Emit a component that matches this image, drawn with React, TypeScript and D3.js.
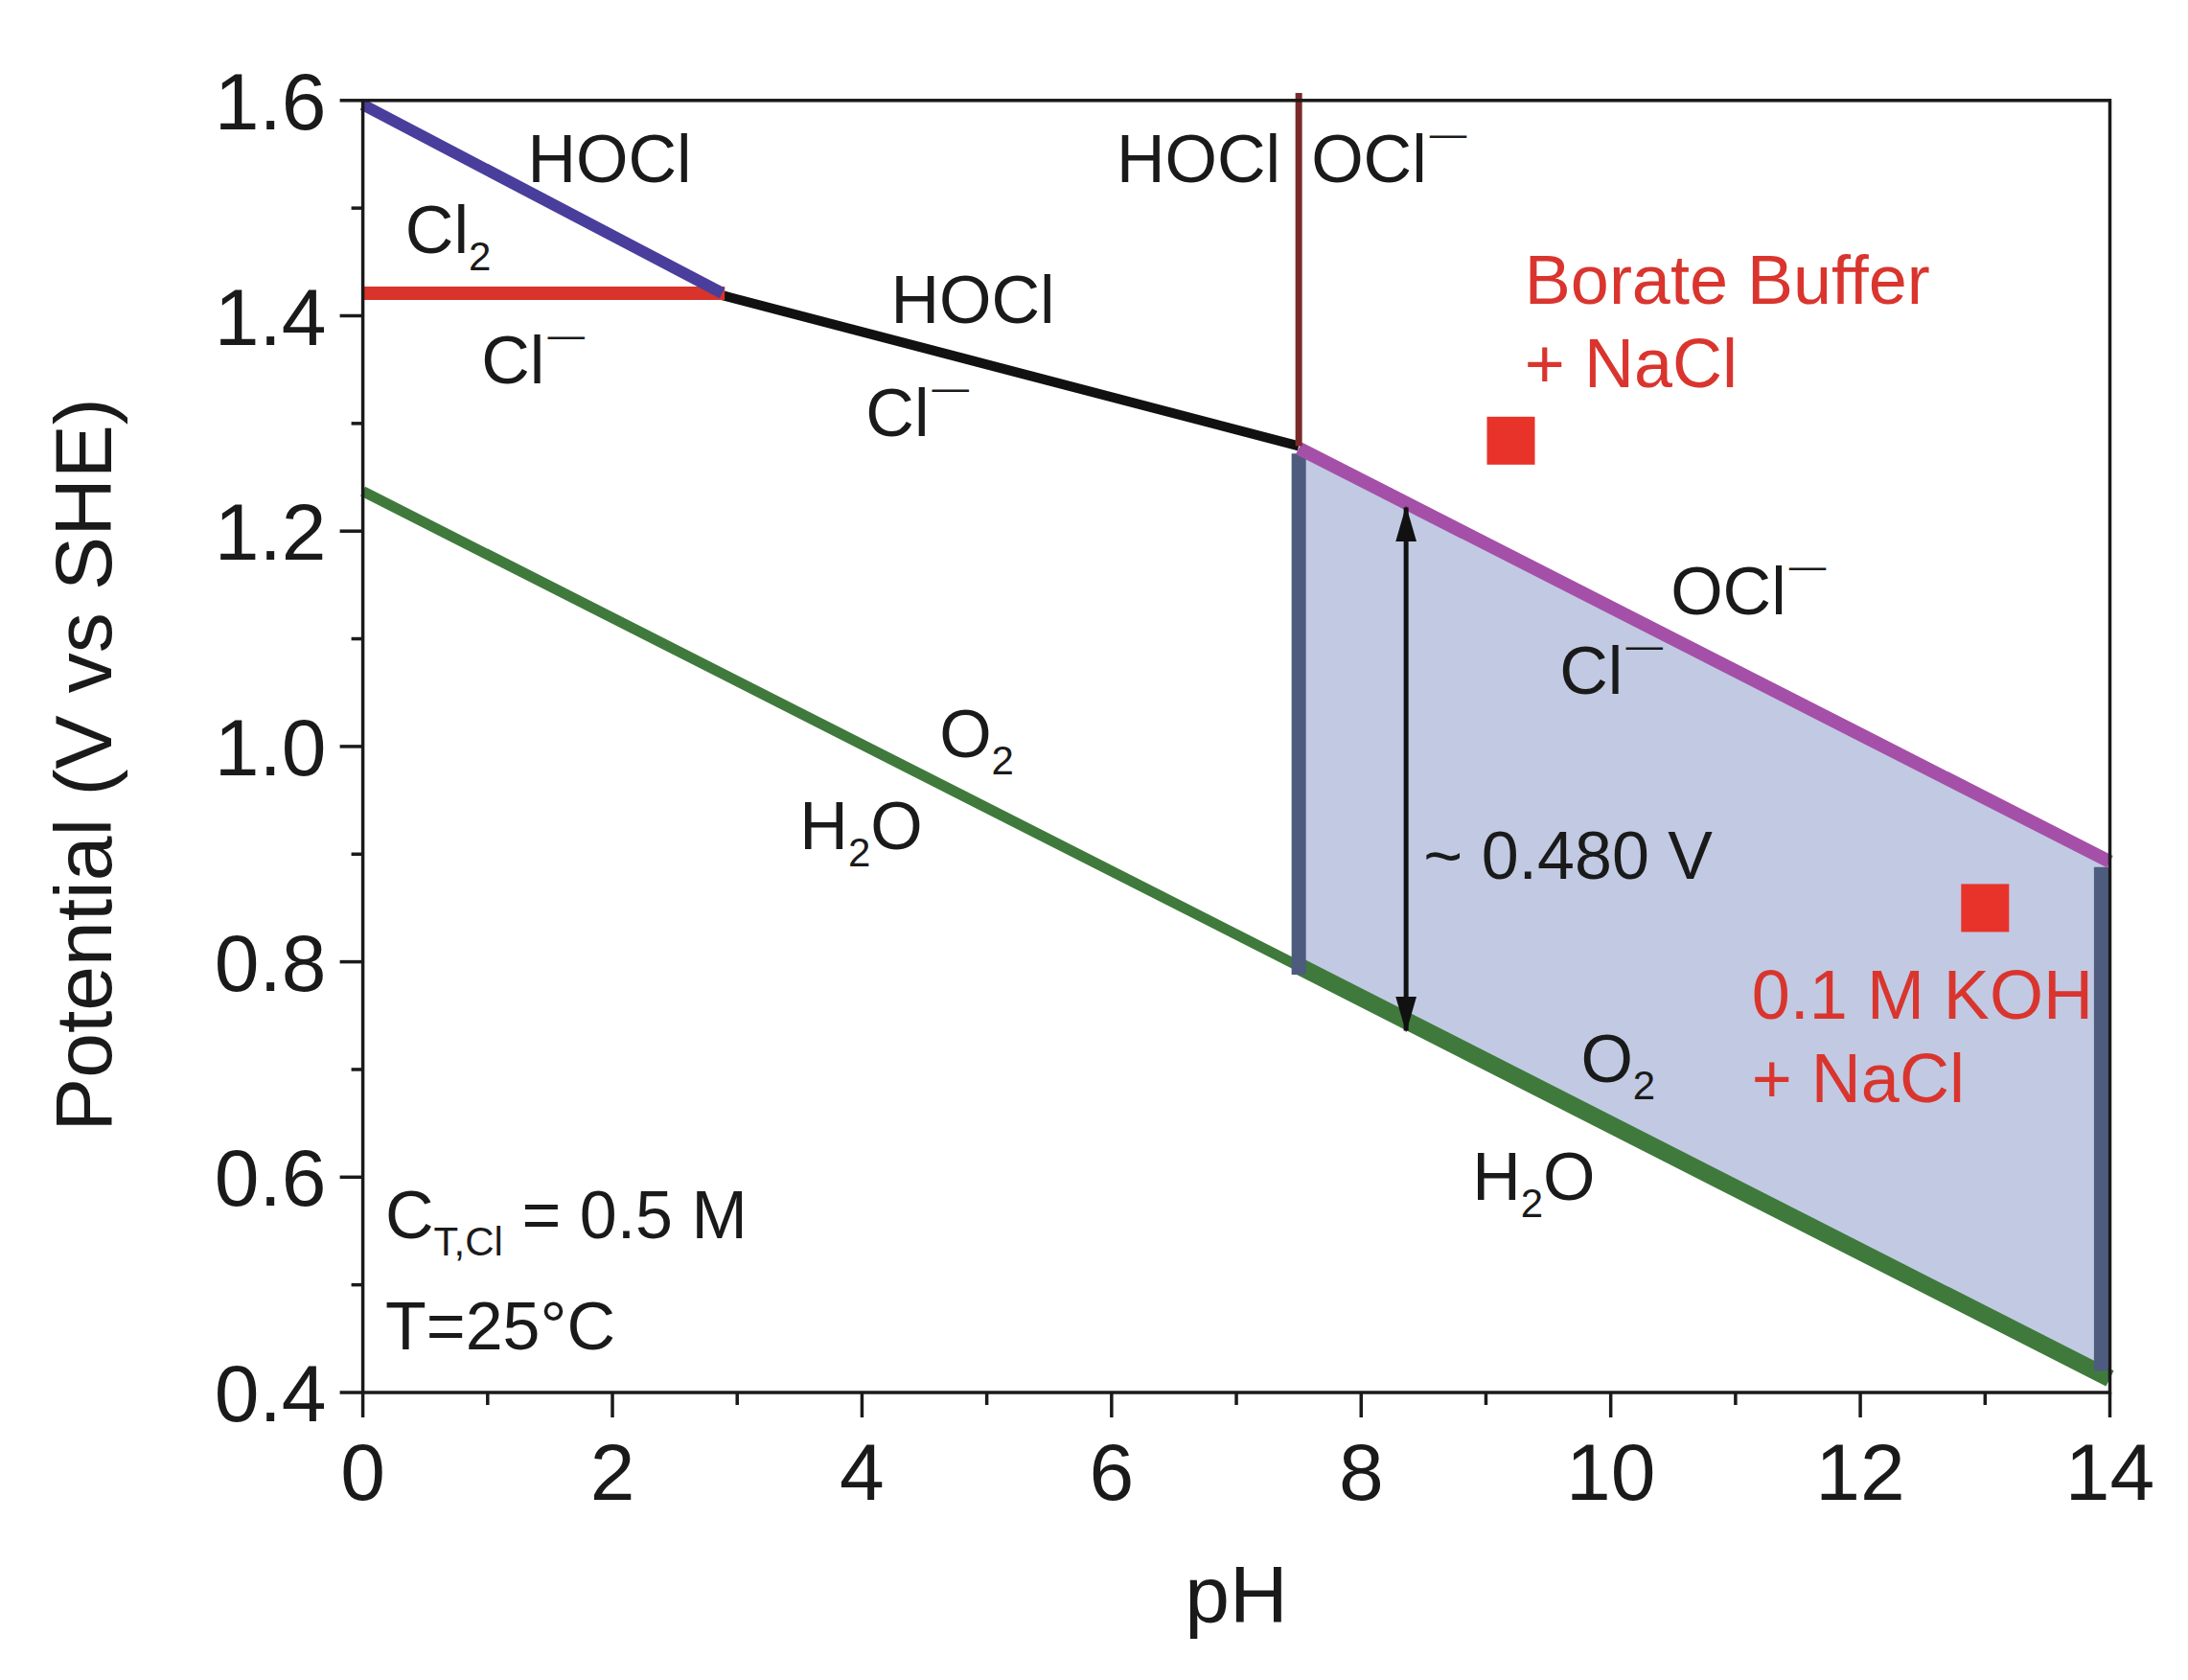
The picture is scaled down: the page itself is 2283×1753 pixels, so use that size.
import React from "react";
import * as d3 from "d3";

// ---------- data ----------
type P = { ph: number; E: number };
const cl2HoclLine: P[] = [{ ph: 0, E: 1.596 }, { ph: 2.88, E: 1.421 }];
const cl2ClLine: P[] = [{ ph: 0, E: 1.421 }, { ph: 2.9, E: 1.421 }];
const hoclClLine: P[] = [{ ph: 2.88, E: 1.419 }, { ph: 7.5, E: 1.279 }];
const hoclOclLine: P[] = [{ ph: 7.5, E: 1.279 }, { ph: 7.5, E: 1.607 }];
const oclClLine: P[] = [{ ph: 7.5, E: 1.277 }, { ph: 14, E: 0.893 }];
const waterLineAcid: P[] = [{ ph: 0, E: 1.237 }, { ph: 7.5, E: 0.796 }];
const waterLineWindow: P[] = [{ ph: 7.5, E: 0.796 }, { ph: 14, E: 0.413 }];
const windowLeft: P[] = [{ ph: 7.5, E: 1.272 }, { ph: 7.5, E: 0.788 }];
const windowRight: P[] = [{ ph: 13.93, E: 0.888 }, { ph: 13.93, E: 0.42 }];
const windowArea: P[] = [
  { ph: 7.5, E: 1.277 },
  { ph: 14, E: 0.893 },
  { ph: 14, E: 0.413 },
  { ph: 7.5, E: 0.796 },
];
const gapArrow: P[] = [{ ph: 8.36, E: 1.222 }, { ph: 8.36, E: 0.736 }];
const electrolytePoints: P[] = [{ ph: 9.2, E: 1.284 }, { ph: 13.0, E: 0.85 }];

const xTicks = [0, 2, 4, 6, 8, 10, 12, 14];
const xMinor = [1, 3, 5, 7, 9, 11, 13];
const yTicks = [0.4, 0.6, 0.8, 1.0, 1.2, 1.4, 1.6];
const yMinor = [0.5, 0.7, 0.9, 1.1, 1.3, 1.5];

type Seg = { t: string; k?: "sub" | "sup" };
type Label = { ph: number; E: number; parts: Seg[]; red?: boolean };
const labels: Label[] = [
  { ph: 1.32, E: 1.524, parts: [{ t: "HOCl" }] },
  { ph: 0.34, E: 1.458, parts: [{ t: "Cl" }, { t: "2", k: "sub" }] },
  { ph: 0.95, E: 1.337, parts: [{ t: "Cl" }, { t: "—", k: "sup" }] },
  { ph: 4.23, E: 1.393, parts: [{ t: "HOCl" }] },
  { ph: 4.03, E: 1.288, parts: [{ t: "Cl" }, { t: "—", k: "sup" }] },
  { ph: 6.04, E: 1.524, parts: [{ t: "HOCl" }] },
  { ph: 7.6, E: 1.524, parts: [{ t: "OCl" }, { t: "—", k: "sup" }] },
  { ph: 10.48, E: 1.123, parts: [{ t: "OCl" }, { t: "—", k: "sup" }] },
  { ph: 9.59, E: 1.049, parts: [{ t: "Cl" }, { t: "—", k: "sup" }] },
  { ph: 4.62, E: 0.99, parts: [{ t: "O" }, { t: "2", k: "sub" }] },
  { ph: 3.5, E: 0.905, parts: [{ t: "H" }, { t: "2", k: "sub" }, { t: "O" }] },
  { ph: 8.5, E: 0.877, parts: [{ t: "~ 0.480 V" }] },
  { ph: 9.76, E: 0.688, parts: [{ t: "O" }, { t: "2", k: "sub" }] },
  { ph: 8.89, E: 0.579, parts: [{ t: "H" }, { t: "2", k: "sub" }, { t: "O" }] },
  { ph: 0.18, E: 0.543, parts: [{ t: "C" }, { t: "T,Cl", k: "sub" }, { t: " = 0.5 M" }] },
  { ph: 0.18, E: 0.44, parts: [{ t: "T=25°C" }] },
  { ph: 9.31, E: 1.411, parts: [{ t: "Borate Buffer" }], red: true },
  { ph: 9.31, E: 1.334, parts: [{ t: "+ NaCl" }], red: true },
  { ph: 11.13, E: 0.747, parts: [{ t: "0.1 M KOH" }], red: true },
  { ph: 11.13, E: 0.67, parts: [{ t: "+ NaCl" }], red: true },
];

// ---------- layout ----------
const W = 2283;
const H = 1753;
const X0 = 378.6;
const X1 = 2201.5;
const Y0 = 1453;
const Y1 = 104.8;
const FONT = "'Liberation Sans', Arial, Helvetica, sans-serif";

const x = d3.scaleLinear().domain([0, 14]).range([X0, X1]);
const y = d3.scaleLinear().domain([0.4, 1.6]).range([Y0, Y1]);
const line = d3
  .line<P>()
  .x((d) => x(d.ph))
  .y((d) => y(d.E));

function LabelText({ l }: { l: Label }) {
  const fs = l.red ? 72 : 70;
  return (
    <text
      x={x(l.ph)}
      y={y(l.E)}
      fontSize={fs}
      fontFamily={FONT}
      fill={l.red ? "#d9352e" : "#1a1a1a"}
    >
      {l.parts.map((p, i) => {
        const prev = i > 0 ? l.parts[i - 1].k : undefined;
        let dy = 0;
        if (p.k === "sub") dy = 18;
        else if (p.k === "sup") dy = -37;
        if (prev === "sub") dy -= 18;
        if (prev === "sup") dy += 37;
        const size = p.k === "sub" ? fs * 0.6 : p.k === "sup" ? fs * 0.55 : fs;
        return (
          <tspan key={i} dy={dy} dx={p.k === "sup" ? 3 : 0} fontSize={size}>
            {p.t}
          </tspan>
        );
      })}
    </text>
  );
}

export default function App() {
  const sq = 50;
  return (
    <svg
      width={W}
      height={H}
      viewBox={`0 0 ${W} ${H}`}
      style={{ position: "absolute", left: 0, top: 0, background: "#fff" }}
    >
      <defs>
        <marker
          id="ah"
          viewBox="0 0 38 22"
          refX="36"
          refY="11"
          markerWidth="38"
          markerHeight="22"
          markerUnits="userSpaceOnUse"
          orient="auto-start-reverse"
        >
          <path d="M0,0 L38,11 L0,22 Z" fill="#111" />
        </marker>
      </defs>
      <rect x={0} y={0} width={W} height={H} fill="#fff" />

      {/* stability window */}
      <path d={line(windowArea)! + "Z"} fill="#c1cae2" stroke="none" />

      {/* water oxidation line */}
      <path d={line(waterLineAcid)!} stroke="#3f7a3c" strokeWidth={11} fill="none" />
      <path d={line(waterLineWindow)!} stroke="#3f7a3c" strokeWidth={18} fill="none" />

      {/* window sides */}
      <path d={line(windowLeft)!} stroke="#4d5b7e" strokeWidth={15} fill="none" />
      <path d={line(windowRight)!} stroke="#4d5b7e" strokeWidth={15} fill="none" />

      {/* chlorine lines */}
      <path d={line(oclClLine)!} stroke="#a550a8" strokeWidth={14} fill="none" />
      <path d={line(hoclClLine)!} stroke="#111" strokeWidth={10} fill="none" />
      <path d={line(hoclOclLine)!} stroke="#7a2a2a" strokeWidth={7} fill="none" />
      <path d={line(cl2ClLine)!} stroke="#d9342b" strokeWidth={14} fill="none" />
      <path d={line(cl2HoclLine)!} stroke="#4a3e9c" strokeWidth={12} fill="none" />

      {/* arrow */}
      <path
        d={line(gapArrow)!}
        stroke="#111"
        strokeWidth={5}
        fill="none"
        markerStart="url(#ah)"
        markerEnd="url(#ah)"
      />

      {/* electrolyte markers */}
      {electrolytePoints.map((p, i) => (
        <rect
          key={i}
          x={x(p.ph) - sq / 2}
          y={y(p.E) - sq / 2}
          width={sq}
          height={sq}
          fill="#e8332a"
        />
      ))}

      {/* labels */}
      {labels.map((l, i) => (
        <LabelText key={i} l={l} />
      ))}

      {/* frame */}
      <rect
        x={X0}
        y={Y1}
        width={X1 - X0}
        height={Y0 - Y1}
        fill="none"
        stroke="#1a1a1a"
        strokeWidth={3.5}
      />

      {/* x ticks */}
      {xTicks.map((t) => (
        <g key={"xt" + t}>
          <line x1={x(t)} x2={x(t)} y1={Y0} y2={Y0 + 26} stroke="#1a1a1a" strokeWidth={3.5} />
          <text
            x={x(t)}
            y={Y0 + 112}
            textAnchor="middle"
            fontSize={84}
            fontFamily={FONT}
            fill="#1a1a1a"
          >
            {t}
          </text>
        </g>
      ))}
      {xMinor.map((t) => (
        <line key={"xm" + t} x1={x(t)} x2={x(t)} y1={Y0} y2={Y0 + 13} stroke="#1a1a1a" strokeWidth={3.5} />
      ))}

      {/* y ticks */}
      {yTicks.map((t) => (
        <g key={"yt" + t}>
          <line x1={X0 - 24} x2={X0} y1={y(t)} y2={y(t)} stroke="#1a1a1a" strokeWidth={3.5} />
          <text
            x={X0 - 38}
            y={y(t) + 30}
            textAnchor="end"
            fontSize={84}
            fontFamily={FONT}
            fill="#1a1a1a"
          >
            {t.toFixed(1)}
          </text>
        </g>
      ))}
      {yMinor.map((t) => (
        <line key={"ym" + t} x1={X0 - 12} x2={X0} y1={y(t)} y2={y(t)} stroke="#1a1a1a" strokeWidth={3.5} />
      ))}

      {/* axis titles */}
      <text
        x={(X0 + X1) / 2}
        y={1693}
        textAnchor="middle"
        fontSize={84}
        fontFamily={FONT}
        fill="#1a1a1a"
      >
        pH
      </text>
      <text
        transform={`translate(116, ${798}) rotate(-90)`}
        textAnchor="middle"
        fontSize={84}
        fontFamily={FONT}
        fill="#1a1a1a"
      >
        Potential (V vs SHE)
      </text>
    </svg>
  );
}
